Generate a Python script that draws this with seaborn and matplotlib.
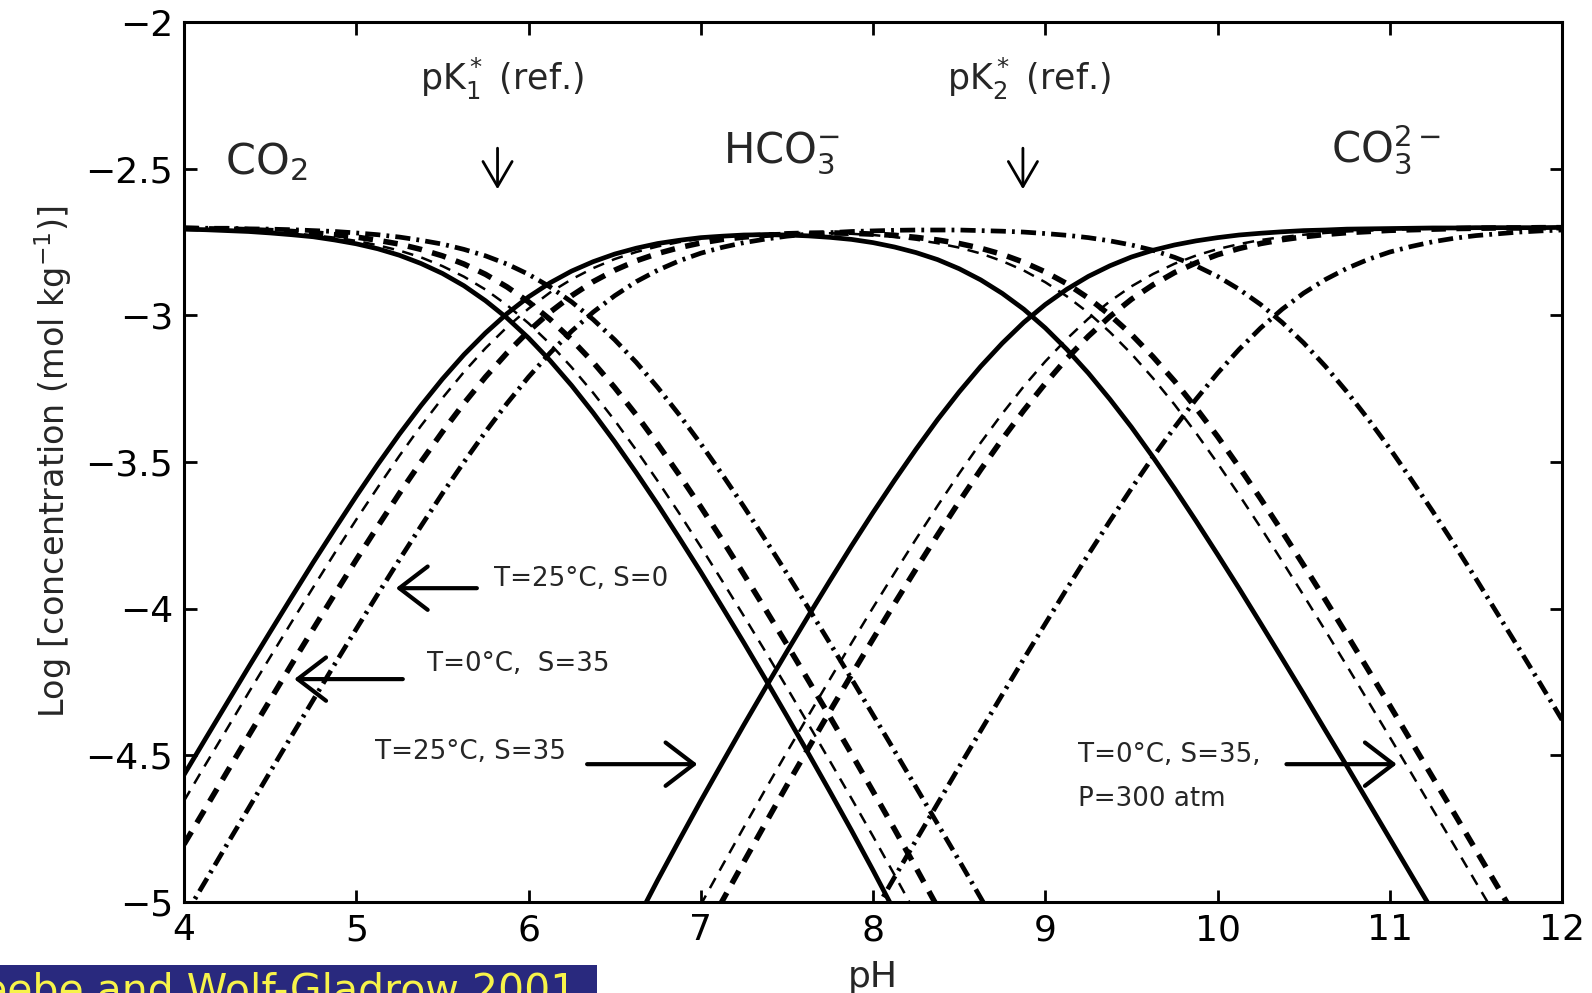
import matplotlib
matplotlib.use("Agg")
import matplotlib.pyplot as plt
import matplotlib.patches as mpatches
import seaborn as sns

# ---------------- data ----------------
ph = [4.000, 4.125, 4.250, 4.375, 4.500, 4.625, 4.750, 4.875, 5.000, 5.125, 5.250, 5.375, 5.500,
      5.625, 5.750, 5.875, 6.000, 6.125, 6.250, 6.375, 6.500, 6.625, 6.750, 6.875, 7.000, 7.125,
      7.250, 7.375, 7.500, 7.625, 7.750, 7.875, 8.000, 8.125, 8.250, 8.375, 8.500, 8.625, 8.750,
      8.875, 9.000, 9.125, 9.250, 9.375, 9.500, 9.625, 9.750, 9.875, 10.000, 10.125, 10.250, 10.375,
      10.500, 10.625, 10.750, 10.875, 11.000, 11.125, 11.250, 11.375, 11.500, 11.625, 11.750, 11.875, 12.000]

# T=25C, S=35 (solid)
co2_t25_s35 = [-2.706, -2.708, -2.711, -2.714, -2.719, -2.725, -2.732, -2.743, -2.756, -2.773, -2.795, -2.823, -2.857,
               -2.899, -2.950, -3.009, -3.077, -3.154, -3.239, -3.332, -3.431, -3.536, -3.645, -3.759, -3.875, -3.995,
               -4.116, -4.240, -4.366, -4.494, -4.624, -4.756, -4.892, -5.032, -5.176, -5.325, -5.481, -5.644, -5.815,
               -5.994, -6.183, -6.381, -6.587, -6.801, -7.021, -7.248, -7.480, -7.716, -7.955, -8.196, -8.440, -8.685,
               -8.931, -9.179, -9.426, -9.675, -9.924, -10.173, -10.422, -10.672, -10.921, -11.171, -11.421, -11.671, -11.920]
hco3_t25_s35 = [-4.566, -4.443, -4.321, -4.199, -4.079, -3.960, -3.842, -3.728, -3.616, -3.508, -3.405, -3.308, -3.217,
                -3.134, -3.060, -2.994, -2.937, -2.889, -2.849, -2.817, -2.791, -2.771, -2.755, -2.744, -2.735, -2.730,
                -2.726, -2.725, -2.726, -2.729, -2.734, -2.741, -2.752, -2.767, -2.786, -2.810, -2.841, -2.879, -2.925,
                -2.979, -3.043, -3.116, -3.197, -3.286, -3.381, -3.483, -3.590, -3.701, -3.815, -3.931, -4.050, -4.170,
                -4.291, -4.414, -4.536, -4.660, -4.784, -4.908, -5.032, -5.157, -5.281, -5.406, -5.531, -5.656, -5.780]
co3_t25_s35 = [-9.486, -9.238, -8.991, -8.744, -8.499, -8.255, -8.012, -7.773, -7.536, -7.303, -7.075, -6.853, -6.637,
               -6.429, -6.230, -6.039, -5.857, -5.684, -5.519, -5.362, -5.211, -5.066, -4.925, -4.789, -4.655, -4.525,
               -4.396, -4.270, -4.146, -4.024, -3.904, -3.786, -3.672, -3.562, -3.456, -3.355, -3.261, -3.174, -3.095,
               -3.024, -2.963, -2.911, -2.867, -2.831, -2.801, -2.778, -2.760, -2.746, -2.735, -2.726, -2.720, -2.715,
               -2.711, -2.709, -2.706, -2.705, -2.704, -2.703, -2.702, -2.702, -2.701, -2.701, -2.701, -2.701, -2.700]

# T=0C, S=35, P=300 atm (thin dashed)
co2_t0_s35_p300 = [-2.705, -2.706, -2.709, -2.711, -2.715, -2.720, -2.727, -2.735, -2.746, -2.761, -2.779, -2.802, -2.832,
                   -2.868, -2.912, -2.965, -3.027, -3.097, -3.177, -3.264, -3.358, -3.459, -3.565, -3.675, -3.789, -3.906,
                   -4.025, -4.146, -4.269, -4.394, -4.520, -4.647, -4.776, -4.908, -5.042, -5.179, -5.319, -5.464, -5.615,
                   -5.772, -5.937, -6.110, -6.291, -6.482, -6.681, -6.889, -7.104, -7.326, -7.554, -7.787, -8.023, -8.263,
                   -8.505, -8.749, -8.994, -9.241, -9.488, -9.736, -9.985, -10.233, -10.483, -10.732, -10.981, -11.231, -11.481]
hco3_t0_s35_p300 = [-4.655, -4.531, -4.409, -4.286, -4.165, -4.045, -3.927, -3.810, -3.696, -3.586, -3.479, -3.377, -3.282,
                    -3.193, -3.112, -3.040, -2.977, -2.922, -2.877, -2.839, -2.808, -2.784, -2.765, -2.750, -2.739, -2.731,
                    -2.725, -2.721, -2.719, -2.719, -2.720, -2.722, -2.726, -2.733, -2.742, -2.754, -2.769, -2.789, -2.815,
                    -2.847, -2.887, -2.935, -2.991, -3.057, -3.131, -3.214, -3.304, -3.401, -3.504, -3.612, -3.723, -3.838,
                    -3.955, -4.074, -4.194, -4.316, -4.438, -4.561, -4.685, -4.808, -4.933, -5.057, -5.181, -5.306, -5.431]
co3_t0_s35_p300 = [-9.925, -9.676, -9.429, -9.181, -8.935, -8.690, -8.447, -8.205, -7.966, -7.731, -7.499, -7.272, -7.052,
                   -6.838, -6.632, -6.435, -6.247, -6.067, -5.897, -5.734, -5.578, -5.429, -5.285, -5.145, -5.009, -4.876,
                   -4.745, -4.616, -4.489, -4.364, -4.240, -4.117, -3.996, -3.878, -3.762, -3.649, -3.539, -3.434, -3.335,
                   -3.242, -3.157, -3.080, -3.011, -2.952, -2.901, -2.859, -2.824, -2.796, -2.774, -2.757, -2.743, -2.733,
                   -2.725, -2.719, -2.714, -2.711, -2.708, -2.706, -2.705, -2.703, -2.703, -2.702, -2.701, -2.701, -2.701]

# T=0C, S=35 (thick dashed)
co2_t0_s35 = [-2.703, -2.705, -2.706, -2.708, -2.711, -2.714, -2.719, -2.725, -2.733, -2.744, -2.757, -2.775, -2.797,
              -2.825, -2.860, -2.903, -2.954, -3.014, -3.083, -3.160, -3.246, -3.339, -3.439, -3.544, -3.653, -3.766,
              -3.883, -4.002, -4.122, -4.245, -4.369, -4.495, -4.623, -4.752, -4.884, -5.018, -5.155, -5.296, -5.442,
              -5.594, -5.752, -5.917, -6.091, -6.274, -6.465, -6.666, -6.874, -7.091, -7.313, -7.542, -7.775, -8.012,
              -8.252, -8.494, -8.738, -8.984, -9.230, -9.478, -9.726, -9.974, -10.223, -10.472, -10.722, -10.971, -11.221]
hco3_t0_s35 = [-4.803, -4.680, -4.556, -4.433, -4.311, -4.189, -4.069, -3.950, -3.833, -3.719, -3.607, -3.500, -3.397,
               -3.300, -3.210, -3.128, -3.054, -2.989, -2.933, -2.885, -2.846, -2.814, -2.789, -2.769, -2.753, -2.741,
               -2.733, -2.727, -2.722, -2.720, -2.719, -2.720, -2.723, -2.727, -2.734, -2.743, -2.755, -2.771, -2.792,
               -2.819, -2.852, -2.892, -2.941, -2.999, -3.065, -3.141, -3.224, -3.316, -3.413, -3.517, -3.625, -3.737,
               -3.852, -3.969, -4.088, -4.209, -4.330, -4.453, -4.576, -4.699, -4.823, -4.947, -5.072, -5.196, -5.321]
co3_t0_s35 = [-10.183, -9.935, -9.686, -9.438, -9.191, -8.944, -8.699, -8.455, -8.213, -7.974, -7.737, -7.505, -7.277,
              -7.055, -6.840, -6.633, -6.434, -6.244, -6.063, -5.890, -5.726, -5.569, -5.419, -5.274, -5.133, -4.996,
              -4.863, -4.732, -4.602, -4.475, -4.349, -4.225, -4.103, -3.982, -3.864, -3.748, -3.635, -3.526, -3.422,
              -3.324, -3.232, -3.147, -3.071, -3.004, -2.945, -2.896, -2.854, -2.821, -2.793, -2.772, -2.755, -2.742,
              -2.732, -2.724, -2.718, -2.714, -2.710, -2.708, -2.706, -2.704, -2.703, -2.702, -2.702, -2.701, -2.701]

# T=25C, S=0 (dash-dot)
co2_t25_s0 = [-2.702, -2.703, -2.703, -2.705, -2.706, -2.708, -2.711, -2.714, -2.719, -2.725, -2.733, -2.744, -2.757,
              -2.775, -2.797, -2.825, -2.860, -2.903, -2.954, -3.014, -3.083, -3.160, -3.246, -3.339, -3.438, -3.543,
              -3.652, -3.765, -3.880, -3.998, -4.118, -4.239, -4.362, -4.485, -4.609, -4.734, -4.859, -4.986, -5.113,
              -5.241, -5.371, -5.502, -5.635, -5.771, -5.910, -6.053, -6.202, -6.356, -6.517, -6.686, -6.863, -7.049,
              -7.244, -7.448, -7.660, -7.879, -8.104, -8.335, -8.569, -8.807, -9.048, -9.292, -9.536, -9.782, -10.029]
hco3_t25_s0 = [-5.052, -4.928, -4.803, -4.680, -4.556, -4.433, -4.311, -4.189, -4.069, -3.950, -3.833, -3.719, -3.607,
               -3.500, -3.397, -3.300, -3.210, -3.128, -3.054, -2.989, -2.933, -2.885, -2.846, -2.814, -2.788, -2.768,
               -2.752, -2.740, -2.730, -2.723, -2.718, -2.714, -2.712, -2.710, -2.709, -2.709, -2.709, -2.711, -2.713,
               -2.716, -2.721, -2.727, -2.735, -2.746, -2.760, -2.778, -2.802, -2.831, -2.867, -2.911, -2.963, -3.024,
               -3.094, -3.173, -3.260, -3.354, -3.454, -3.560, -3.669, -3.782, -3.898, -4.017, -4.136, -4.257, -4.379]
co3_t25_s0 = [-11.382, -11.133, -10.883, -10.635, -10.386, -10.138, -9.891, -9.644, -9.399, -9.155, -8.913, -8.674, -8.437,
              -8.205, -7.977, -7.755, -7.540, -7.333, -7.134, -6.944, -6.763, -6.590, -6.426, -6.269, -6.118, -5.973,
              -5.832, -5.695, -5.560, -5.428, -5.298, -5.169, -5.042, -4.915, -4.789, -4.664, -4.539, -4.416, -4.293,
              -4.171, -4.051, -3.932, -3.815, -3.701, -3.590, -3.483, -3.382, -3.286, -3.197, -3.116, -3.043, -2.979,
              -2.924, -2.878, -2.840, -2.809, -2.784, -2.765, -2.749, -2.737, -2.728, -2.722, -2.716, -2.712, -2.709]

x_ticks = [4, 5, 6, 7, 8, 9, 10, 11, 12]
y_ticks = [-5, -4.5, -4, -3.5, -3, -2.5, -2]
y_tick_labels = ["\u22125", "\u22124.5", "\u22124", "\u22123.5", "\u22123", "\u22122.5", "\u22122"]

# ---------------- styling ----------------
sns.set_style("ticks")
plt.rcParams["font.family"] = ["DejaVu Sans"]
plt.rcParams["mathtext.fontset"] = "dejavusans"

fig = plt.figure(figsize=(15.92, 9.93), dpi=100)
ax = fig.add_axes([0.1156, 0.0916, 0.8656, 0.8862])

curve_sets = [
    # (curves, linestyle, linewidth)
    ([co2_t25_s0, hco3_t25_s0, co3_t25_s0], (0, (3.2, 1.3, 0.6, 1.3)), 3.4),
    ([co2_t0_s35, hco3_t0_s35, co3_t0_s35], (0, (2.6, 1.9)), 4.0),
    ([co2_t0_s35_p300, hco3_t0_s35_p300, co3_t0_s35_p300], (0, (4.6, 3.4)), 1.8),
    ([co2_t25_s35, hco3_t25_s35, co3_t25_s35], "-", 3.4),
]
for curves, ls, lw in curve_sets:
    for yv in curves:
        sns.lineplot(x=ph, y=yv, ax=ax, color="black", linewidth=lw,
                     linestyle=ls, estimator=None, sort=False)

ax.set_xlim(4, 12)
ax.set_ylim(-5, -2)
ax.set_xticks(x_ticks)
ax.set_xticklabels([str(t) for t in x_ticks])
ax.set_yticks(y_ticks)
ax.set_yticklabels(y_tick_labels)
ax.tick_params(direction="in", length=9, width=2, top=True, right=True,
               labelsize=26, pad=8, colors="black")
for sp in ax.spines.values():
    sp.set_visible(True)
    sp.set_linewidth(2.2)
    sp.set_color("black")

ax.set_xlabel("pH", fontsize=26)
ax.xaxis.set_label_coords(0.5, -0.066)
ax.xaxis.label.set_va("top")
ax.set_ylabel("Log [concentration (mol kg$^{-1}$)]", fontsize=24)
ax.yaxis.set_label_coords(-0.080, 0.5)

# species labels
ax.text(4.24, -2.52, "CO$_2$", fontsize=31, ha="left", va="baseline")
ax.text(7.13, -2.48, "HCO$_3^{-}$", fontsize=30, ha="left", va="baseline")
ax.text(10.66, -2.48, "CO$_3^{2-}$", fontsize=30, ha="left", va="baseline")
ax.text(5.37, -2.23, "pK$_1^*$ (ref.)", fontsize=25, ha="left", va="baseline")
ax.text(8.43, -2.23, "pK$_2^*$ (ref.)", fontsize=25, ha="left", va="baseline")

down_kw = dict(arrowstyle="->,head_length=0.6,head_width=0.35", lw=2.0,
               color="black", mutation_scale=30, shrinkA=0, shrinkB=0)
ax.annotate("", xy=(5.82, -2.57), xytext=(5.82, -2.43), arrowprops=down_kw)
ax.annotate("", xy=(8.87, -2.57), xytext=(8.87, -2.43), arrowprops=down_kw)

# condition annotations
arr_kw = dict(arrowstyle="->,head_length=0.85,head_width=0.65", lw=3.0,
              color="black", mutation_scale=24, shrinkA=0, shrinkB=0)
ann_fs = 18.8
ax.text(5.80, -3.90, "T=25°C, S=0", fontsize=ann_fs, ha="left", va="center")
ax.annotate("", xy=(5.23, -3.93), xytext=(5.70, -3.93), arrowprops=arr_kw)
ax.text(5.41, -4.19, "T=0°C,  S=35", fontsize=ann_fs, ha="left", va="center")
ax.annotate("", xy=(4.64, -4.24), xytext=(5.27, -4.24), arrowprops=arr_kw)
ax.text(5.11, -4.49, "T=25°C, S=35", fontsize=ann_fs, ha="left", va="center")
ax.annotate("", xy=(6.98, -4.53), xytext=(6.34, -4.53), arrowprops=arr_kw)
ax.text(9.19, -4.50, "T=0°C, S=35,", fontsize=ann_fs, ha="left", va="center")
ax.text(9.19, -4.65, "P=300 atm", fontsize=ann_fs, ha="left", va="center")
ax.annotate("", xy=(11.04, -4.53), xytext=(10.40, -4.53), arrowprops=arr_kw)

# citation banner (cut at the figure edge, as in the reference)
fig.patches.append(mpatches.Rectangle((0, 0), 0.375, 0.0285, transform=fig.transFigure,
                                      facecolor="#29297e", edgecolor="none", zorder=0))
fig.text(0.362, -0.010, "Zeebe and Wolf-Gladrow 2001", fontsize=29.5, color="#f7f34a",
         ha="right", va="baseline")

fig.savefig("out.png", dpi=100)
